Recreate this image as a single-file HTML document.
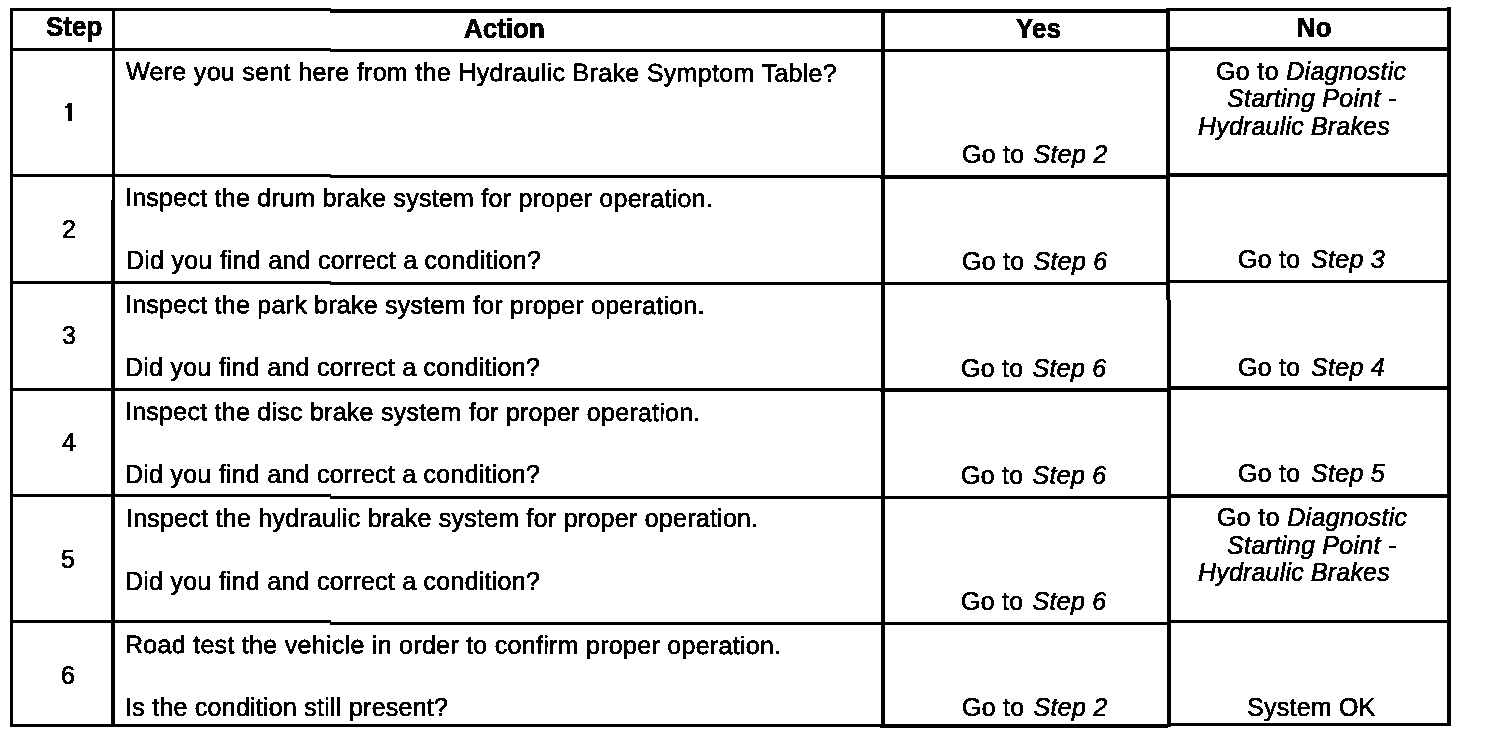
<!DOCTYPE html>
<html><head><meta charset="utf-8"><title>Hydraulic Brake Diagnostic Table</title>
<style>
html,body{margin:0;padding:0;background:#fff;width:1504px;height:738px;overflow:hidden;position:relative}
.l{position:absolute;background:#000}
.t{position:absolute;white-space:nowrap;font-family:"Liberation Sans",sans-serif;color:#000;line-height:30px;-webkit-text-stroke:0.6px #000}
.b{font-size:25px;letter-spacing:0.25px}
.n{font-size:25px}
.h{font-size:26px;font-weight:bold;transform:scaleY(1.06);transform-origin:0 0}
i{font-style:italic}
.y i{margin-left:2px}
.o i{margin-left:3.5px}
#wrap{position:absolute;left:0;top:0;width:1504px;height:738px;background:#fff;filter:url(#bin)}
</style></head><body>
<svg width="0" height="0" style="position:absolute"><filter id="bin" x="0" y="0" width="1" height="1" color-interpolation-filters="sRGB"><feColorMatrix type="matrix" values="0.3 0.59 0.11 0 0 0.3 0.59 0.11 0 0 0.3 0.59 0.11 0 0 0 0 0 1 0"/><feComponentTransfer><feFuncR type="discrete" tableValues="0 1"/><feFuncG type="discrete" tableValues="0 1"/><feFuncB type="discrete" tableValues="0 1"/></feComponentTransfer></filter></svg>
<div id="wrap">
<div class="l" style="left:10px;top:8px;width:3px;height:719px"></div>
<div class="l" style="left:112px;top:8px;width:3px;height:192px"></div>
<div class="l" style="left:111px;top:200px;width:4px;height:527px"></div>
<div class="l" style="left:881px;top:9px;width:4px;height:719px"></div>
<div class="l" style="left:1166px;top:8px;width:4px;height:292px"></div>
<div class="l" style="left:1167px;top:300px;width:4px;height:427px"></div>
<div class="l" style="left:1447px;top:7px;width:4px;height:719px"></div>
<div class="l" style="left:10px;top:8px;width:321px;height:3px"></div>
<div class="l" style="left:330px;top:9px;width:551px;height:4px"></div>
<div class="l" style="left:880px;top:9px;width:288px;height:4px"></div>
<div class="l" style="left:1167px;top:8px;width:284px;height:3px"></div>
<div class="l" style="left:10px;top:48px;width:321px;height:3px"></div>
<div class="l" style="left:330px;top:49px;width:551px;height:3px"></div>
<div class="l" style="left:880px;top:49px;width:288px;height:3px"></div>
<div class="l" style="left:1167px;top:47px;width:284px;height:4px"></div>
<div class="l" style="left:10px;top:174px;width:321px;height:3px"></div>
<div class="l" style="left:330px;top:175px;width:551px;height:3px"></div>
<div class="l" style="left:880px;top:175px;width:288px;height:4px"></div>
<div class="l" style="left:1167px;top:173px;width:284px;height:4px"></div>
<div class="l" style="left:10px;top:281px;width:321px;height:3px"></div>
<div class="l" style="left:330px;top:282px;width:551px;height:3px"></div>
<div class="l" style="left:880px;top:282px;width:288px;height:3px"></div>
<div class="l" style="left:1167px;top:280px;width:284px;height:3px"></div>
<div class="l" style="left:10px;top:388px;width:321px;height:3px"></div>
<div class="l" style="left:330px;top:388px;width:551px;height:3px"></div>
<div class="l" style="left:880px;top:388px;width:288px;height:4px"></div>
<div class="l" style="left:1167px;top:386px;width:284px;height:4px"></div>
<div class="l" style="left:10px;top:494px;width:321px;height:3px"></div>
<div class="l" style="left:330px;top:496px;width:551px;height:3px"></div>
<div class="l" style="left:880px;top:496px;width:288px;height:3px"></div>
<div class="l" style="left:1167px;top:494px;width:284px;height:4px"></div>
<div class="l" style="left:10px;top:620px;width:321px;height:3px"></div>
<div class="l" style="left:330px;top:622px;width:551px;height:3px"></div>
<div class="l" style="left:880px;top:622px;width:288px;height:3px"></div>
<div class="l" style="left:1167px;top:620px;width:284px;height:3px"></div>
<div class="l" style="left:10px;top:724px;width:321px;height:3px"></div>
<div class="l" style="left:330px;top:724px;width:551px;height:3px"></div>
<div class="l" style="left:880px;top:724px;width:288px;height:4px"></div>
<div class="l" style="left:1167px;top:723px;width:284px;height:3px"></div>
<div class="g1" style="position:absolute;left:68px;top:103px;width:4px;height:18px;background:#000"></div>
<div class="g1" style="position:absolute;left:65px;top:106px;width:4px;height:2px;background:#000"></div>
<div class="g1" style="position:absolute;left:67px;top:104px;width:2px;height:3px;background:#000"></div>
<div class="t h" style="left:46.0px;top:11.0px;"><span class="f">S</span><span class="r">tep</span></div>
<div class="t h" style="left:464.0px;top:13.0px;"><span class="f">A</span><span class="r">ction</span></div>
<div class="t h" style="left:1016.0px;top:13.0px;"><span class="f">Y</span><span class="r">es</span></div>
<div class="t h" style="left:1297.0px;top:12.0px;"><span class="f">N</span><span class="r">o</span></div>
<div class="t b" style="left:126.0px;top:56.0px;letter-spacing:0.32px;transform:rotate(0.14deg);transform-origin:0 70%"><span class="f">W</span><span class="r">ere you sent here from the Hydraulic Brake Symptom Table?</span></div>
<div class="t b y" style="left:962.0px;top:139.0px;"><span class="f">G</span><span class="r">o to <i>Step 2</i></span></div>
<div class="t b" style="left:1216.0px;top:56.0px;letter-spacing:0.35px"><span class="f">G</span><span class="r">o to <i>Diagnostic</i></span></div>
<div class="t b" style="left:1227.0px;top:83.0px;"><i><span class="f">S</span><span class="r">tarting Point -</span></i></div>
<div class="t b" style="left:1198.0px;top:111.0px;letter-spacing:0.18px"><i><span class="f">H</span><span class="r">ydraulic Brakes</span></i></div>
<div class="t n" style="left:62.0px;top:214.0px;"><span class="f">2</span><span class="r"></span></div>
<div class="t b" style="left:125.0px;top:182.0px;transform:rotate(0.1deg);transform-origin:0 70%"><span class="f">I</span><span class="r">nspect the drum brake system for proper operation.</span></div>
<div class="t b" style="left:126.0px;top:245.0px;"><span class="f">D</span><span class="r">id you find and correct a condition?</span></div>
<div class="t b y" style="left:962.0px;top:246.0px;"><span class="f">G</span><span class="r">o to <i>Step 6</i></span></div>
<div class="t b o" style="left:1238.0px;top:244.0px;"><span class="f">G</span><span class="r">o to <i>Step 3</i></span></div>
<div class="t n" style="left:62.0px;top:320.0px;"><span class="f">3</span><span class="r"></span></div>
<div class="t b" style="left:125.0px;top:289.0px;transform:rotate(0.1deg);transform-origin:0 70%"><span class="f">I</span><span class="r">nspect the park brake system for proper operation.</span></div>
<div class="t b" style="left:125.0px;top:352.0px;"><span class="f">D</span><span class="r">id you find and correct a condition?</span></div>
<div class="t b y" style="left:961.0px;top:353.0px;"><span class="f">G</span><span class="r">o to <i>Step 6</i></span></div>
<div class="t b o" style="left:1238.0px;top:352.0px;"><span class="f">G</span><span class="r">o to <i>Step 4</i></span></div>
<div class="t n" style="left:62.0px;top:427.0px;"><span class="f">4</span><span class="r"></span></div>
<div class="t b" style="left:125.0px;top:396.0px;transform:rotate(0.1deg);transform-origin:0 70%"><span class="f">I</span><span class="r">nspect the disc brake system for proper operation.</span></div>
<div class="t b" style="left:125.0px;top:459.0px;"><span class="f">D</span><span class="r">id you find and correct a condition?</span></div>
<div class="t b y" style="left:961.0px;top:460.0px;"><span class="f">G</span><span class="r">o to <i>Step 6</i></span></div>
<div class="t b o" style="left:1238.0px;top:458.0px;"><span class="f">G</span><span class="r">o to <i>Step 5</i></span></div>
<div class="t n" style="left:61.0px;top:544.0px;"><span class="f">5</span><span class="r"></span></div>
<div class="t b" style="left:126.0px;top:503.0px;"><span class="f">I</span><span class="r">nspect the hydraulic brake system for proper operation.</span></div>
<div class="t b" style="left:125.0px;top:566.0px;"><span class="f">D</span><span class="r">id you find and correct a condition?</span></div>
<div class="t b y" style="left:961.0px;top:586.0px;"><span class="f">G</span><span class="r">o to <i>Step 6</i></span></div>
<div class="t b" style="left:1217.0px;top:502.0px;letter-spacing:0.35px"><span class="f">G</span><span class="r">o to <i>Diagnostic</i></span></div>
<div class="t b" style="left:1227.0px;top:530.0px;"><i><span class="f">S</span><span class="r">tarting Point -</span></i></div>
<div class="t b" style="left:1198.0px;top:557.0px;letter-spacing:0.18px"><i><span class="f">H</span><span class="r">ydraulic Brakes</span></i></div>
<div class="t n" style="left:61.0px;top:660.0px;"><span class="f">6</span><span class="r"></span></div>
<div class="t b" style="left:125.0px;top:629.0px;letter-spacing:0.29px;transform:rotate(0.09deg);transform-origin:0 70%"><span class="f">R</span><span class="r">oad test the vehicle in order to confirm proper operation.</span></div>
<div class="t b" style="left:125.0px;top:692.0px;"><span class="f">I</span><span class="r">s the condition still present?</span></div>
<div class="t b y" style="left:962.0px;top:692.0px;"><span class="f">G</span><span class="r">o to <i>Step 2</i></span></div>
<div class="t b" style="left:1247.0px;top:692.0px;"><span class="f">S</span><span class="r">ystem OK</span></div>
</div></body></html>
